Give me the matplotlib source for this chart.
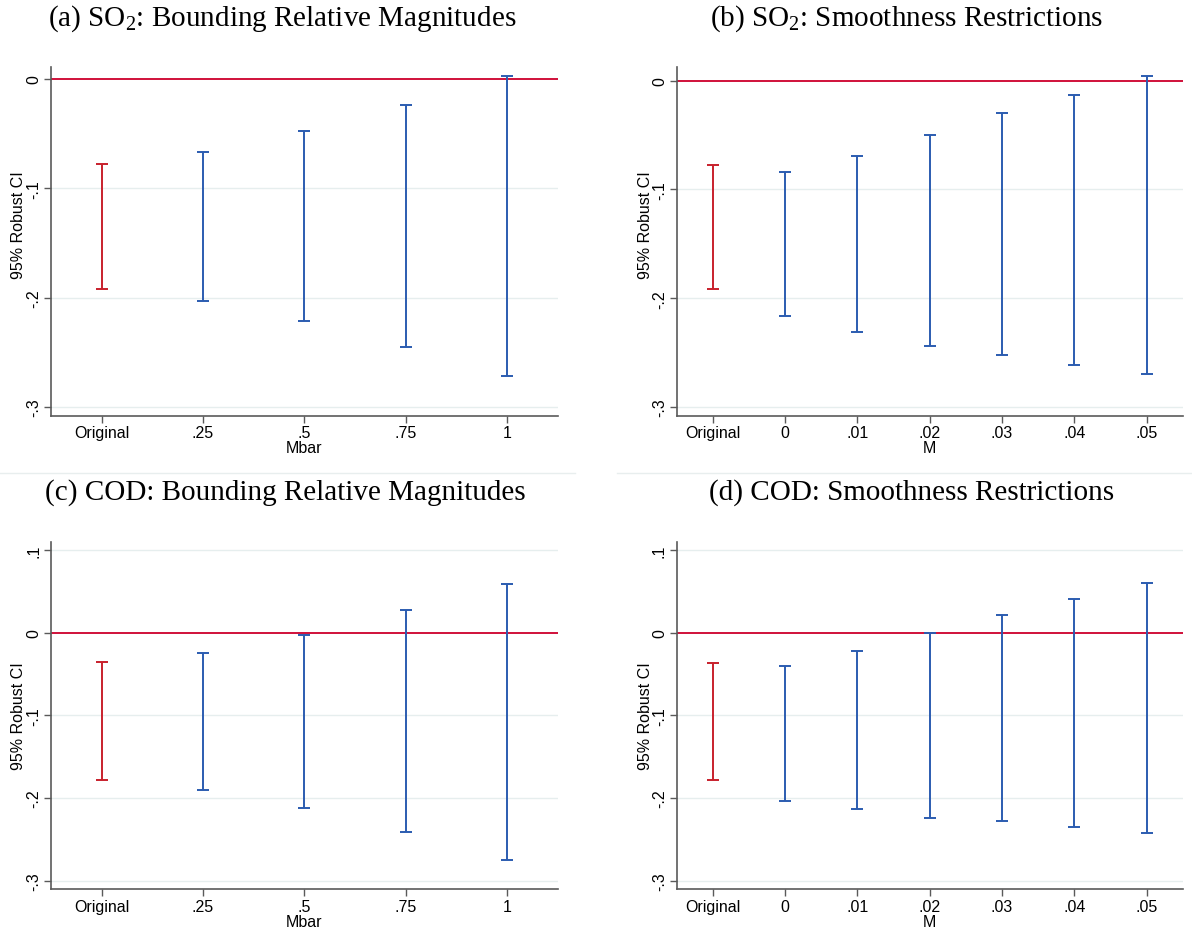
import matplotlib
matplotlib.use("Agg")
import matplotlib.pyplot as plt
import numpy as np
from matplotlib.lines import Line2D

# ---------------- data ----------------
mbar_labels = ["Original", ".25", ".5", ".75", "1"]
m_labels = ["Original", "0", ".01", ".02", ".03", ".04", ".05"]

so2_rm_lo = [-0.192, -0.203, -0.221, -0.245, -0.272]
so2_rm_hi = [-0.078, -0.067, -0.048, -0.024, 0.003]

so2_sd_lo = [-0.192, -0.216, -0.231, -0.244, -0.252, -0.261, -0.270]
so2_sd_hi = [-0.078, -0.084, -0.069, -0.050, -0.030, -0.013, 0.004]

cod_rm_lo = [-0.178, -0.190, -0.212, -0.241, -0.275]
cod_rm_hi = [-0.036, -0.025, -0.003, 0.027, 0.059]

cod_sd_lo = [-0.178, -0.204, -0.213, -0.224, -0.228, -0.235, -0.242]
cod_sd_hi = [-0.037, -0.040, -0.022, -0.001, 0.021, 0.041, 0.060]

titles = [
    r"(a) SO$_2$: Bounding Relative Magnitudes",
    r"(b) SO$_2$: Smoothness Restrictions",
    "(c) COD: Bounding Relative Magnitudes",
    "(d) COD: Smoothness Restrictions",
]

# ---------------- style ----------------
plt.rcParams["mathtext.fontset"] = "custom"
plt.rcParams["mathtext.rm"] = "Liberation Serif"
plt.rcParams["mathtext.it"] = "Liberation Serif:italic"

W, H = 1192, 928
fig = plt.figure(figsize=(W / 100, H / 100), dpi=100)

RED = "#c8202c"
BLUE = "#2b5cb0"
ZERO = "#d0103a"
GRID = "#e6eeee"
AXC = "#5a5a5a"
SANS = ["Liberation Sans Narrow", "Liberation Sans", "DejaVu Sans"]
SERIF = ["Liberation Serif", "DejaVu Serif"]


def px_axes(l, r, t, b):
    return fig.add_axes([l / W, 1 - b / H, (r - l) / W, (b - t) / H])


panels = [
    dict(box=(51, 557.7, 68, 416.7), labels=mbar_labels, lo=so2_rm_lo, hi=so2_rm_hi,
         ylim=(-0.308, 0.011), yt=[-0.3, -0.2, -0.1, 0], xl="Mbar",
         title=titles[0], tx=282, ty=19, ylab=(19, 225)),
    dict(box=(676.7, 1182.7, 68, 416.7), labels=m_labels, lo=so2_sd_lo, hi=so2_sd_hi,
         ylim=(-0.308, 0.0125), yt=[-0.3, -0.2, -0.1, 0], xl="M",
         title=titles[1], tx=907, ty=19, ylab=(645, 225)),
    dict(box=(51, 557.7, 542.7, 890), labels=mbar_labels, lo=cod_rm_lo, hi=cod_rm_hi,
         ylim=(-0.31, 0.110), yt=[-0.3, -0.2, -0.1, 0, 0.1], xl="Mbar",
         title=titles[2], tx=285, ty=493, ylab=(19, 716)),
    dict(box=(676.7, 1182.7, 542.7, 890), labels=m_labels, lo=cod_sd_lo, hi=cod_sd_hi,
         ylim=(-0.31, 0.110), yt=[-0.3, -0.2, -0.1, 0, 0.1], xl="M",
         title=titles[3], tx=912, ty=493, ylab=(645, 716)),
]


def fmt(v):
    if abs(v) < 1e-9:
        return "0"
    s = f"{v:.1f}"
    return s.replace("0.", ".")


for p in panels:
    l, r, t, b = p["box"]
    ax = px_axes(l, r, t, b)
    n = len(p["labels"])
    x = np.arange(n)
    lo = np.array(p["lo"])
    hi = np.array(p["hi"])
    colors = [RED] + [BLUE] * (n - 1)
    for yv in p["yt"]:
        if yv != 0:
            ax.axhline(yv, color=GRID, lw=1.0, zorder=0)
    ax.axhline(0, color=ZERO, lw=1.4, zorder=1)
    for xi, l_, h_, c in zip(x, lo, hi, colors):
        ax.errorbar([xi], [l_], yerr=[[0], [h_ - l_]], fmt="none", ecolor=c,
                    elinewidth=1.4, capsize=4, capthick=1.4, zorder=3)
    ax.set_xlim(-0.5, n - 0.5)
    ax.set_ylim(*p["ylim"])
    ax.set_xticks(x)
    ax.set_xticklabels(p["labels"], fontsize=11.5, family=SANS)
    ax.set_yticks(p["yt"])
    ax.set_yticklabels([fmt(v) for v in p["yt"]], fontsize=11.5,
                       family=SANS, rotation=90, va="center")
    for s in ["top", "right"]:
        ax.spines[s].set_visible(False)
    for s in ["left", "bottom"]:
        ax.spines[s].set_color(AXC)
        ax.spines[s].set_linewidth(1.2)
    ax.tick_params(axis="both", direction="out", length=5, width=1.0, color=AXC,
                   pad=2)
    ax.set_xlabel(p["xl"], fontsize=11.5, family=SANS, labelpad=0)
    fig.text(p["ylab"][0] / W, 1 - p["ylab"][1] / H, "95% Robust CI", rotation=90,
             ha="center", va="center", fontsize=11.5, family=SANS)
    fig.text(p["tx"] / W, 1 - p["ty"] / H, p["title"], ha="center", va="center",
             fontsize=21, family=SERIF)

# faint separator lines between rows
fig.add_artist(Line2D([0 / W, 575 / W], [1 - 474 / H] * 2, color="#e8eeee", lw=1.0))
fig.add_artist(Line2D([617 / W, 1192 / W], [1 - 474 / H] * 2, color="#e8eeee", lw=1.0))

fig.savefig("out.png", dpi=100, facecolor="white")
